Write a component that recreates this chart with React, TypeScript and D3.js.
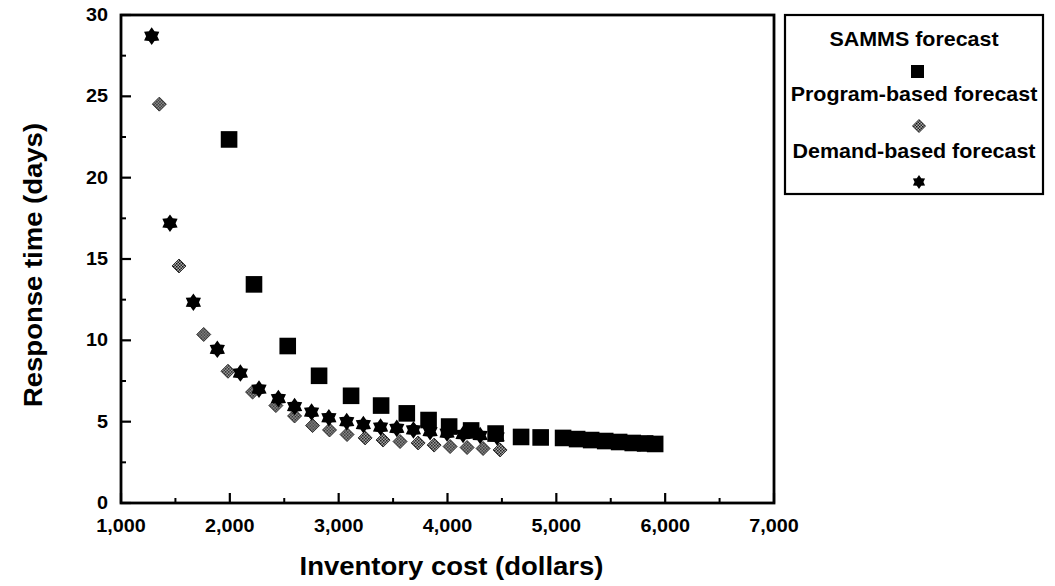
import React from "react";
import * as d3 from "d3";

const sammsX = [1993, 2222, 2532, 2820, 3114, 3390, 3626, 3826, 4015, 4217, 4442, 4676, 4856, 5062, 5191, 5320, 5449, 5577, 5702, 5816, 5908];
const sammsY = [22.35, 13.44, 9.65, 7.82, 6.59, 5.99, 5.51, 5.1, 4.7, 4.46, 4.27, 4.06, 4.03, 4.0, 3.93, 3.87, 3.81, 3.75, 3.69, 3.66, 3.63];

const programX = [1352, 1533, 1760, 1983, 2209, 2423, 2595, 2760, 2916, 3077, 3243, 3408, 3564, 3730, 3877, 4024, 4180, 4327, 4483];
const programY = [24.52, 14.57, 10.36, 8.1, 6.82, 5.99, 5.35, 4.76, 4.49, 4.21, 4.0, 3.87, 3.78, 3.69, 3.56, 3.47, 3.41, 3.35, 3.26];

const demandX = [1282, 1450, 1665, 1885, 2097, 2268, 2446, 2595, 2751, 2910, 3074, 3227, 3385, 3534, 3687, 3840, 3996, 4143, 4300, 4456];
const demandY = [28.7, 17.2, 12.34, 9.45, 7.99, 7.0, 6.42, 5.93, 5.59, 5.24, 5.0, 4.82, 4.67, 4.59, 4.49, 4.39, 4.3, 4.21, 4.15, 4.06];

const xTicks = [1000, 2000, 3000, 4000, 5000, 6000, 7000];
const yTicks = [0, 5, 10, 15, 20, 25, 30];
const legendLabels = ["SAMMS forecast", "Program-based forecast", "Demand-based forecast"];
const xTitle = "Inventory cost (dollars)";
const yTitle = "Response time (days)";

const FONT = "'Liberation Sans', Arial, Helvetica, sans-serif";
const SX = 1.1;

function starPath(R: number, r: number): string {
  const pts: [number, number][] = [];
  for (let i = 0; i < 12; i++) {
    const a = (Math.PI / 6) * i - Math.PI / 2;
    const rad = i % 2 === 0 ? R : r;
    pts.push([Math.cos(a) * rad, Math.sin(a) * rad]);
  }
  return d3.line()(pts)! + "Z";
}

function diamondPath(h: number): string {
  return `M0,${-h}L${h},0L0,${h}L${-h},0Z`;
}

function T(props: { x: number; y: number; size: number; anchor?: string; rotate?: number; children: React.ReactNode }) {
  const { x, y, size, anchor = "middle", rotate = 0, children } = props;
  return (
    <text
      transform={`translate(${x},${y}) rotate(${rotate}) scale(${SX},1)`}
      fontFamily={FONT}
      fontWeight="bold"
      fontSize={size}
      textAnchor={anchor}
      fill="#000"
    >
      {children}
    </text>
  );
}

export default function App() {
  const x = d3.scaleLinear().domain([1000, 7000]).range([121, 774]);
  const y = d3.scaleLinear().domain([0, 30]).range([503, 15]);

  const xMinor = d3.range(1500, 7000, 1000);
  const yMinor = d3.range(2.5, 30, 5);

  const star = starPath(8.8, 5.6);
  const starSmall = starPath(7, 4.4);
  const diamond = diamondPath(7);

  const legendX = 914;

  return (
    <svg width={1055} height={586} style={{ position: "absolute", left: 0, top: 0, background: "#fff" }}>
      <defs>
        <pattern id="dither" width="3" height="3" patternUnits="userSpaceOnUse">
          <rect width="3" height="3" fill="#b0b0b0" />
          <rect width="1.5" height="1.5" fill="#111" />
          <rect x="1.5" y="1.5" width="1.5" height="1.5" fill="#222" />
        </pattern>
      </defs>
      <rect width={1055} height={586} fill="#fff" />

      {/* frame */}
      <rect x={x(1000)} y={y(30)} width={x(7000) - x(1000)} height={y(0) - y(30)} fill="none" stroke="#000" strokeWidth={2.8} />

      {/* y ticks */}
      {yTicks.map((t) => (
        <g key={"yt" + t}>
          <line x1={x(1000)} x2={x(1000) + 10} y1={y(t)} y2={y(t)} stroke="#000" strokeWidth={2.2} />
          <T x={108} y={y(t) + 6} size={18} anchor="end">{t}</T>
        </g>
      ))}
      {yMinor.map((t) => (
        <line key={"ym" + t} x1={x(1000)} x2={x(1000) + 5} y1={y(t)} y2={y(t)} stroke="#000" strokeWidth={2} />
      ))}

      {/* x ticks */}
      {xTicks.map((t) => (
        <g key={"xt" + t}>
          <line x1={x(t)} x2={x(t)} y1={y(0)} y2={y(0) - 10} stroke="#000" strokeWidth={2.2} />
          <T x={x(t)} y={y(0) + 29} size={18}>{d3.format(",")(t)}</T>
        </g>
      ))}
      {xMinor.map((t) => (
        <line key={"xm" + t} x1={x(t)} x2={x(t)} y1={y(0)} y2={y(0) - 5} stroke="#000" strokeWidth={2} />
      ))}

      {/* axis titles */}
      <T x={(x(1000) + x(7000)) / 2 + 4} y={575} size={25}>{xTitle}</T>
      <T x={42} y={265} size={25} rotate={-90}>{yTitle}</T>

      {/* SAMMS squares */}
      {sammsX.map((v, i) => (
        <rect key={"s" + i} x={x(v) - 8.3} y={y(sammsY[i]) - 8.3} width={16.6} height={16.6} fill="#000" />
      ))}
      {/* Program diamonds */}
      {programX.map((v, i) => (
        <path key={"p" + i} d={diamond} transform={`translate(${x(v)},${y(programY[i])})`} fill="url(#dither)" stroke="#222" strokeWidth={0.9} />
      ))}
      {/* Demand stars */}
      {demandX.map((v, i) => (
        <path key={"d" + i} d={star} transform={`translate(${x(v)},${y(demandY[i])})`} fill="#000" />
      ))}

      {/* legend */}
      <rect x={785} y={15} width={258} height={179} fill="#fff" stroke="#000" strokeWidth={2.2} />
      <T x={legendX} y={46} size={19.5}>{legendLabels[0]}</T>
      <rect x={legendX - 3} y={65} width={13} height={13} fill="#000" />
      <T x={legendX} y={101} size={19.5}>{legendLabels[1]}</T>
      <path d={diamondPath(6.5)} transform={`translate(${legendX + 5},126)`} fill="url(#dither)" stroke="#222" strokeWidth={0.9} />
      <T x={legendX} y={158} size={19.5}>{legendLabels[2]}</T>
      <path d={starSmall} transform={`translate(${legendX + 5},182)`} fill="#000" />
    </svg>
  );
}
